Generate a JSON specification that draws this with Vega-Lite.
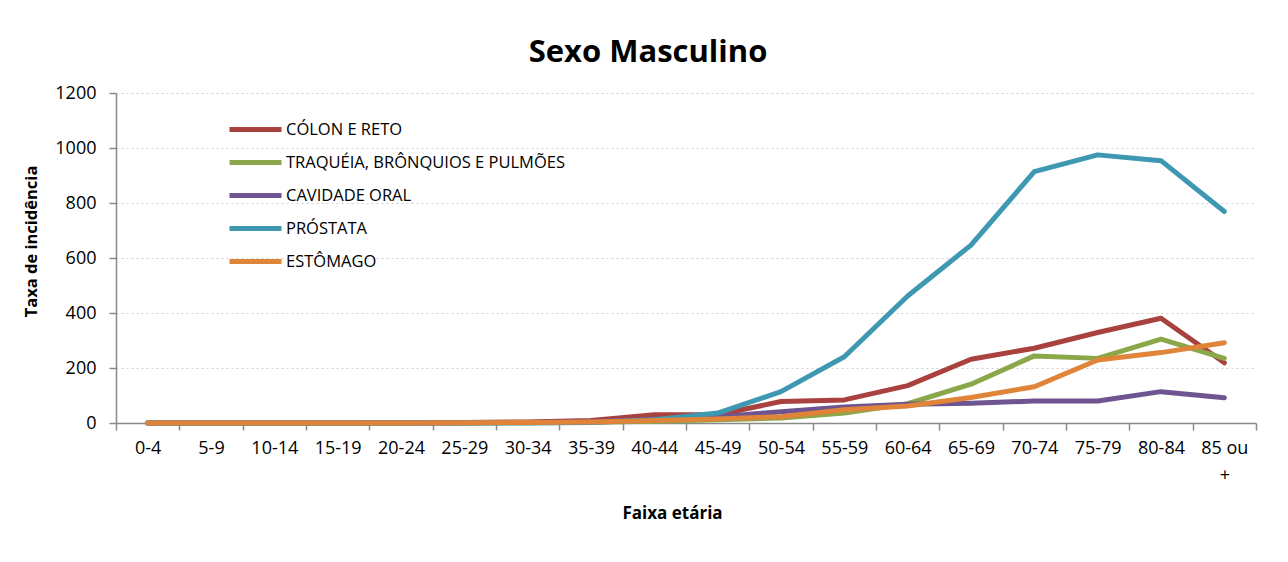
{
  "$schema": "https://vega.github.io/schema/vega-lite/v6.json",
  "autosize": "none",
  "width": 1140,
  "height": 330,
  "padding": {"left": 116, "top": 93, "right": 32, "bottom": 139},
  "background": "white",
  "config": {
    "font": "Open Sans",
    "view": {"stroke": null}
  },
  "title": {
    "text": "Sexo Masculino",
    "font": "Open Sans",
    "fontSize": 31,
    "fontWeight": "bold",
    "color": "black",
    "anchor": "middle",
    "dx": -38,
    "offset": 15
  },
  "data": {
    "values": [
      {"faixa": "0-4", "serie": "CÓLON E RETO", "taxa": 0},
      {"faixa": "5-9", "serie": "CÓLON E RETO", "taxa": 0},
      {"faixa": "10-14", "serie": "CÓLON E RETO", "taxa": 0},
      {"faixa": "15-19", "serie": "CÓLON E RETO", "taxa": 0},
      {"faixa": "20-24", "serie": "CÓLON E RETO", "taxa": 1},
      {"faixa": "25-29", "serie": "CÓLON E RETO", "taxa": 2},
      {"faixa": "30-34", "serie": "CÓLON E RETO", "taxa": 4},
      {"faixa": "35-39", "serie": "CÓLON E RETO", "taxa": 9},
      {"faixa": "40-44", "serie": "CÓLON E RETO", "taxa": 30},
      {"faixa": "45-49", "serie": "CÓLON E RETO", "taxa": 30},
      {"faixa": "50-54", "serie": "CÓLON E RETO", "taxa": 78},
      {"faixa": "55-59", "serie": "CÓLON E RETO", "taxa": 84},
      {"faixa": "60-64", "serie": "CÓLON E RETO", "taxa": 136},
      {"faixa": "65-69", "serie": "CÓLON E RETO", "taxa": 232},
      {"faixa": "70-74", "serie": "CÓLON E RETO", "taxa": 272},
      {"faixa": "75-79", "serie": "CÓLON E RETO", "taxa": 329},
      {"faixa": "80-84", "serie": "CÓLON E RETO", "taxa": 381},
      {"faixa": "85 ou +", "serie": "CÓLON E RETO", "taxa": 219},

      {"faixa": "0-4", "serie": "TRAQUÉIA, BRÔNQUIOS E PULMÕES", "taxa": 0},
      {"faixa": "5-9", "serie": "TRAQUÉIA, BRÔNQUIOS E PULMÕES", "taxa": 0},
      {"faixa": "10-14", "serie": "TRAQUÉIA, BRÔNQUIOS E PULMÕES", "taxa": 0},
      {"faixa": "15-19", "serie": "TRAQUÉIA, BRÔNQUIOS E PULMÕES", "taxa": 0},
      {"faixa": "20-24", "serie": "TRAQUÉIA, BRÔNQUIOS E PULMÕES", "taxa": 0},
      {"faixa": "25-29", "serie": "TRAQUÉIA, BRÔNQUIOS E PULMÕES", "taxa": 0},
      {"faixa": "30-34", "serie": "TRAQUÉIA, BRÔNQUIOS E PULMÕES", "taxa": 1},
      {"faixa": "35-39", "serie": "TRAQUÉIA, BRÔNQUIOS E PULMÕES", "taxa": 3},
      {"faixa": "40-44", "serie": "TRAQUÉIA, BRÔNQUIOS E PULMÕES", "taxa": 6},
      {"faixa": "45-49", "serie": "TRAQUÉIA, BRÔNQUIOS E PULMÕES", "taxa": 12},
      {"faixa": "50-54", "serie": "TRAQUÉIA, BRÔNQUIOS E PULMÕES", "taxa": 18},
      {"faixa": "55-59", "serie": "TRAQUÉIA, BRÔNQUIOS E PULMÕES", "taxa": 36},
      {"faixa": "60-64", "serie": "TRAQUÉIA, BRÔNQUIOS E PULMÕES", "taxa": 70},
      {"faixa": "65-69", "serie": "TRAQUÉIA, BRÔNQUIOS E PULMÕES", "taxa": 141},
      {"faixa": "70-74", "serie": "TRAQUÉIA, BRÔNQUIOS E PULMÕES", "taxa": 244},
      {"faixa": "75-79", "serie": "TRAQUÉIA, BRÔNQUIOS E PULMÕES", "taxa": 235},
      {"faixa": "80-84", "serie": "TRAQUÉIA, BRÔNQUIOS E PULMÕES", "taxa": 305},
      {"faixa": "85 ou +", "serie": "TRAQUÉIA, BRÔNQUIOS E PULMÕES", "taxa": 235},

      {"faixa": "0-4", "serie": "CAVIDADE ORAL", "taxa": 0},
      {"faixa": "5-9", "serie": "CAVIDADE ORAL", "taxa": 0},
      {"faixa": "10-14", "serie": "CAVIDADE ORAL", "taxa": 0},
      {"faixa": "15-19", "serie": "CAVIDADE ORAL", "taxa": 0},
      {"faixa": "20-24", "serie": "CAVIDADE ORAL", "taxa": 0},
      {"faixa": "25-29", "serie": "CAVIDADE ORAL", "taxa": 1},
      {"faixa": "30-34", "serie": "CAVIDADE ORAL", "taxa": 2},
      {"faixa": "35-39", "serie": "CAVIDADE ORAL", "taxa": 5},
      {"faixa": "40-44", "serie": "CAVIDADE ORAL", "taxa": 14},
      {"faixa": "45-49", "serie": "CAVIDADE ORAL", "taxa": 22},
      {"faixa": "50-54", "serie": "CAVIDADE ORAL", "taxa": 41},
      {"faixa": "55-59", "serie": "CAVIDADE ORAL", "taxa": 58},
      {"faixa": "60-64", "serie": "CAVIDADE ORAL", "taxa": 68},
      {"faixa": "65-69", "serie": "CAVIDADE ORAL", "taxa": 72},
      {"faixa": "70-74", "serie": "CAVIDADE ORAL", "taxa": 80},
      {"faixa": "75-79", "serie": "CAVIDADE ORAL", "taxa": 80},
      {"faixa": "80-84", "serie": "CAVIDADE ORAL", "taxa": 114},
      {"faixa": "85 ou +", "serie": "CAVIDADE ORAL", "taxa": 92},

      {"faixa": "0-4", "serie": "PRÓSTATA", "taxa": 0},
      {"faixa": "5-9", "serie": "PRÓSTATA", "taxa": 0},
      {"faixa": "10-14", "serie": "PRÓSTATA", "taxa": 0},
      {"faixa": "15-19", "serie": "PRÓSTATA", "taxa": 0},
      {"faixa": "20-24", "serie": "PRÓSTATA", "taxa": 0},
      {"faixa": "25-29", "serie": "PRÓSTATA", "taxa": 0},
      {"faixa": "30-34", "serie": "PRÓSTATA", "taxa": 0},
      {"faixa": "35-39", "serie": "PRÓSTATA", "taxa": 2},
      {"faixa": "40-44", "serie": "PRÓSTATA", "taxa": 12},
      {"faixa": "45-49", "serie": "PRÓSTATA", "taxa": 36},
      {"faixa": "50-54", "serie": "PRÓSTATA", "taxa": 114},
      {"faixa": "55-59", "serie": "PRÓSTATA", "taxa": 241},
      {"faixa": "60-64", "serie": "PRÓSTATA", "taxa": 462},
      {"faixa": "65-69", "serie": "PRÓSTATA", "taxa": 647},
      {"faixa": "70-74", "serie": "PRÓSTATA", "taxa": 914},
      {"faixa": "75-79", "serie": "PRÓSTATA", "taxa": 975},
      {"faixa": "80-84", "serie": "PRÓSTATA", "taxa": 954},
      {"faixa": "85 ou +", "serie": "PRÓSTATA", "taxa": 769},

      {"faixa": "0-4", "serie": "ESTÔMAGO", "taxa": 0},
      {"faixa": "5-9", "serie": "ESTÔMAGO", "taxa": 0},
      {"faixa": "10-14", "serie": "ESTÔMAGO", "taxa": 0},
      {"faixa": "15-19", "serie": "ESTÔMAGO", "taxa": 0},
      {"faixa": "20-24", "serie": "ESTÔMAGO", "taxa": 0},
      {"faixa": "25-29", "serie": "ESTÔMAGO", "taxa": 1},
      {"faixa": "30-34", "serie": "ESTÔMAGO", "taxa": 2},
      {"faixa": "35-39", "serie": "ESTÔMAGO", "taxa": 4},
      {"faixa": "40-44", "serie": "ESTÔMAGO", "taxa": 9},
      {"faixa": "45-49", "serie": "ESTÔMAGO", "taxa": 15},
      {"faixa": "50-54", "serie": "ESTÔMAGO", "taxa": 23},
      {"faixa": "55-59", "serie": "ESTÔMAGO", "taxa": 48},
      {"faixa": "60-64", "serie": "ESTÔMAGO", "taxa": 62},
      {"faixa": "65-69", "serie": "ESTÔMAGO", "taxa": 93},
      {"faixa": "70-74", "serie": "ESTÔMAGO", "taxa": 132},
      {"faixa": "75-79", "serie": "ESTÔMAGO", "taxa": 229},
      {"faixa": "80-84", "serie": "ESTÔMAGO", "taxa": 256},
      {"faixa": "85 ou +", "serie": "ESTÔMAGO", "taxa": 292}
    ]
  },
  "mark": {"type": "line", "strokeWidth": 5, "strokeCap": "round", "strokeJoin": "round"},
  "encoding": {
    "x": {
      "field": "faixa",
      "type": "ordinal",
      "sort": null,
      "bandPosition": 0.5,
      "scale": {"type": "band", "paddingInner": 0, "paddingOuter": 0},
      "axis": {
        "title": "Faixa etária",
        "titleFont": "Open Sans",
        "titleFontSize": 17,
        "titleFontWeight": "bold",
        "titleColor": "black",
        "titleX": 556,
        "titleY": 82,
        "labelAngle": 0,
        "labelFont": "Open Sans",
        "labelFontSize": 18,
        "labelColor": "black",
        "labelPadding": 9,
        "labelLineHeight": 27,
        "labelExpr": "datum.label == '85 ou +' ? ['85 ou', '+'] : datum.label",
        "tickBand": "extent",
        "tickSize": 7,
        "tickColor": "#898989",
        "tickWidth": 1.5,
        "domainColor": "#898989",
        "domainWidth": 1.5,
        "grid": false
      }
    },
    "y": {
      "field": "taxa",
      "type": "quantitative",
      "scale": {"domain": [0, 1200]},
      "axis": {
        "title": "Taxa de incidência",
        "titleFont": "Open Sans",
        "titleFontSize": 16.5,
        "titleFontWeight": "bold",
        "titleColor": "black",
        "titleX": -77,
        "titleY": 148,
        "values": [0, 200, 400, 600, 800, 1000, 1200],
        "format": "d",
        "labelFont": "Open Sans",
        "labelFontSize": 18,
        "labelColor": "black",
        "labelPadding": 13,
        "tickSize": 7,
        "tickColor": "#898989",
        "tickWidth": 1.5,
        "domainColor": "#898989",
        "domainWidth": 1.5,
        "grid": true,
        "gridColor": "#D0D0D0",
        "gridDash": [2, 3],
        "gridWidth": 1.2
      }
    },
    "color": {
      "field": "serie",
      "type": "nominal",
      "sort": ["CÓLON E RETO", "TRAQUÉIA, BRÔNQUIOS E PULMÕES", "CAVIDADE ORAL", "PRÓSTATA", "ESTÔMAGO"],
      "scale": {
        "domain": ["CÓLON E RETO", "TRAQUÉIA, BRÔNQUIOS E PULMÕES", "CAVIDADE ORAL", "PRÓSTATA", "ESTÔMAGO"],
        "range": ["#A9423F", "#8AA84A", "#6E5490", "#3F98B2", "#E0843A"]
      },
      "legend": {
        "title": null,
        "orient": "none",
        "legendX": 117,
        "legendY": 14,
        "symbolType": "M-1.3,0H1.3",
        "symbolSize": 1600,
        "symbolStrokeWidth": 5,
        "labelFont": "Open Sans",
        "labelFontSize": 16.5,
        "labelColor": "black",
        "labelOffset": 8,
        "rowPadding": 0,
        "labelLimit": 400
      }
    }
  }
}
